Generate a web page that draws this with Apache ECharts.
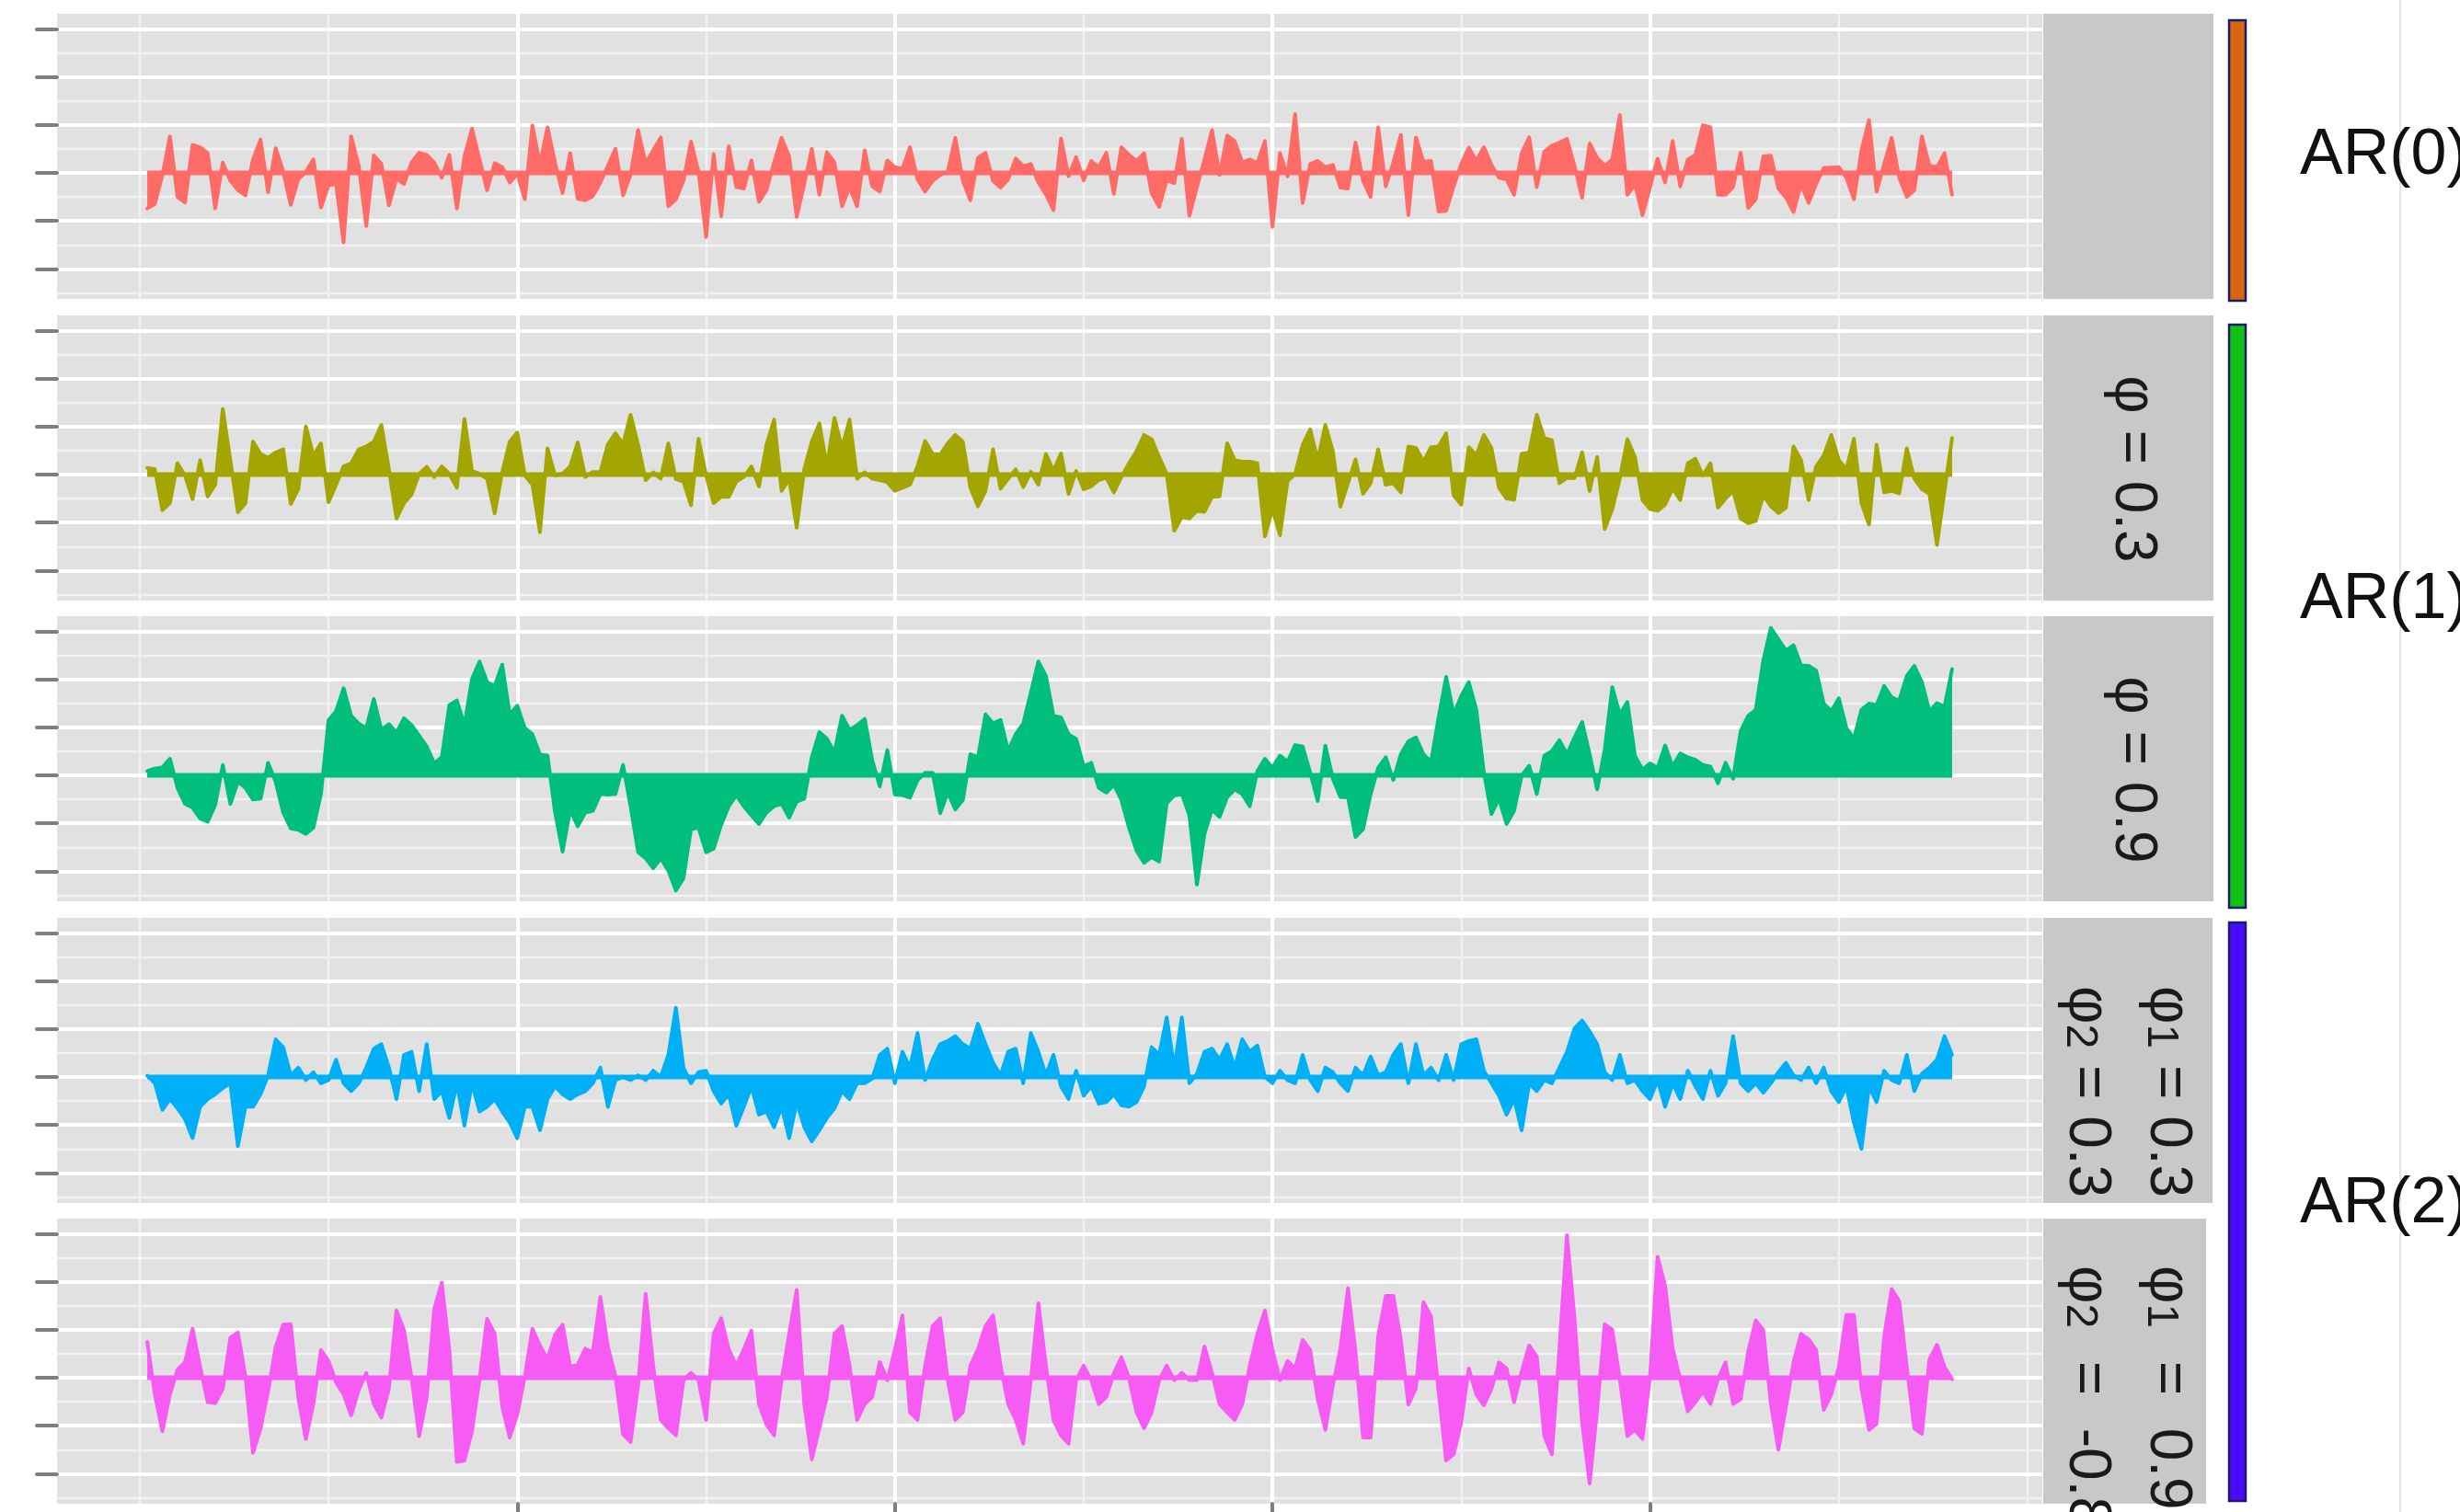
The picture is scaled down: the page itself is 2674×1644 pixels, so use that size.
<!DOCTYPE html>
<html>
<head>
<meta charset="utf-8">
<script src="https://cdn.jsdelivr.net/npm/echarts@6/dist/echarts.min.js"></script>
<style>
html,body{margin:0;padding:0;background:#ffffff;}
#chart{width:2674px;height:1644px;}
</style>
</head>
<body>
<div id="chart"></div>
<script>
// Simulated autoregressive series, 240 steps each
const ar0 = [
 -1.48,-1.29,-0.1,1.52,-1.0,-1.23,1.17,1.07,0.82,-1.48,
 0.43,-0.33,-0.72,-0.93,0.56,1.39,-0.8,1.03,0.05,-1.33,
 -0.27,0.05,0.56,-1.44,-0.52,-0.46,-2.89,1.52,0.3,-2.21,
 0.73,0.37,-1.35,-0.24,-0.46,0.43,0.84,0.75,0.43,-0.2,
 0.75,-1.48,0.69,1.84,0.56,-0.72,0.41,0.24,-0.4,-0.04,
 -1.1,1.97,0.37,1.9,0.43,-0.84,0.82,-1.07,-1.14,-0.97,
 -0.4,0.3,1.0,-0.94,-0.08,1.78,0.41,0.94,1.48,-1.39,
 -1.1,-0.33,1.3,0.05,-2.67,0.79,-1.8,1.11,-0.59,-0.65,
 0.52,-1.2,-0.72,0.43,1.46,0.69,-1.83,-0.46,1.0,-0.91,
 0.86,0.43,-1.39,-0.59,-1.39,0.94,-0.56,-0.78,0.52,0.24,
 0.18,1.07,-0.27,-0.78,-0.33,-0.08,0.05,1.46,-0.33,-1.14,
 0.63,0.84,-0.33,-0.61,-0.27,0.6,0.28,0.37,-0.4,-0.9,
 -1.55,1.43,-0.14,0.66,-0.31,0.5,0.24,0.84,-0.87,1.07,
 0.75,0.5,0.82,-0.84,-1.42,-0.31,-0.43,1.42,-1.78,-0.59,
 0.56,1.78,-0.08,1.56,1.33,0.43,0.56,0.41,1.33,-2.25,
 0.82,-0.14,2.45,-1.25,0.37,0.5,0.24,0.33,-0.61,-0.65,
 1.26,-0.33,-1.0,1.9,-0.56,0.43,1.58,-1.76,1.48,0.46,
 0.5,-1.61,-1.58,-0.56,0.37,1.05,0.5,1.07,0.33,-0.2,
 -0.27,-0.91,0.82,1.48,-0.59,0.88,1.14,1.26,1.42,0.3,
 -1.03,1.23,0.63,0.3,0.56,2.41,-0.91,-0.46,-1.76,-0.59,
 0.59,-0.4,1.33,-0.56,0.56,0.75,1.99,1.9,-0.91,-0.91,
 -0.59,0.84,-1.46,-1.1,0.69,0.72,-0.65,-1.03,-1.63,-0.46,
 -1.25,-0.46,0.2,0.22,0.24,-0.2,-1.1,0.94,2.2,-0.78,
 0.37,1.46,-0.2,-1.0,-0.72,1.52,0.3,0.24,0.82,-0.91
];
const ar1Phi03 = [
 0.28,0.22,-1.48,-1.19,0.47,-0.04,-1.02,0.6,-0.91,-0.42,
 2.73,0.6,-1.57,-1.19,1.37,0.86,0.7,0.92,1.05,-1.23,
 -0.61,2.0,0.79,1.3,-1.15,-0.42,0.34,0.47,1.05,1.17,
 1.37,2.07,0.22,-1.83,-1.19,-0.83,0.03,0.32,-0.1,0.34,
 0.03,-0.55,2.32,0.15,0.03,-0.17,-1.61,0.09,1.37,1.75,
 -0.04,-0.42,-2.4,1.09,-0.04,0.03,0.34,1.34,-0.1,0.11,
 0.11,1.26,1.72,1.26,2.49,1.24,-0.23,0.09,-0.17,1.3,
 -0.19,-0.29,-1.28,1.49,-0.04,-1.19,-0.93,-0.93,-0.29,-0.1,
 0.34,-0.49,1.24,2.29,-0.68,-0.19,-2.21,0.22,1.37,2.13,
 0.34,2.36,1.11,2.29,-0.17,0.09,-0.17,-0.23,-0.32,-0.68,
 -0.55,-0.42,0.34,1.4,0.86,0.83,1.3,1.65,1.37,-0.55,
 -1.32,-0.68,1.05,-0.59,-0.17,0.22,-0.52,0.11,-0.42,0.86,
 0.15,0.88,-0.8,0.15,-0.61,-0.49,-0.23,-0.13,-0.74,-0.1,
 0.47,0.98,1.65,1.47,0.73,0.03,-2.34,-1.76,-1.83,-1.51,
 -1.55,-0.93,-0.91,1.3,0.6,0.54,0.54,0.47,-2.58,-1.44,
 -2.53,-0.27,0.03,1.24,1.88,0.6,2.07,0.98,-1.34,-0.36,
 0.63,-0.8,-0.36,1.05,-0.42,-0.36,-0.74,1.17,1.11,0.54,
 1.14,1.17,1.72,-0.87,-1.25,1.14,0.82,1.65,1.11,-0.55,
 -1.0,-1.04,0.86,0.92,2.49,1.52,1.43,-0.36,-0.14,-0.14,
 0.92,-0.68,0.73,-2.27,-1.44,-0.17,1.47,0.73,-1.06,-1.44,
 -1.51,-1.25,-0.57,-1.06,0.47,0.66,-0.04,0.47,-1.38,-1.0,
 -0.68,-1.83,-2.02,-1.93,-0.87,-1.32,-1.6,-1.38,1.17,0.6,
 -1.06,0.34,0.79,1.65,0.6,0.22,1.49,-1.19,-2.08,1.24,
 -0.74,-0.68,-0.78,1.09,-0.17,-0.61,-0.81,-2.93,-0.68,1.52
];
const ar1Phi09 = [
 0.18,0.28,0.33,0.69,-0.52,-1.19,-1.35,-1.8,-1.93,-1.23,
 0.43,-1.19,-0.27,-0.52,-1.01,-0.97,0.52,-0.27,-1.55,-2.21,
 -2.27,-2.44,-2.18,-0.78,2.29,2.67,3.63,2.48,2.16,1.97,
 3.18,1.9,2.13,1.78,2.38,2.09,1.65,1.2,0.5,0.75,
 2.92,3.12,2.09,4.01,4.74,3.88,3.72,4.61,2.54,2.9,
 1.97,1.71,0.86,0.82,-1.55,-3.18,-1.42,-2.12,-1.55,-1.48,
 -0.78,-0.8,-0.78,0.43,-1.29,-3.21,-3.46,-3.87,-3.46,-3.97,
 -4.8,-4.29,-2.25,-2.18,-3.21,-3.05,-2.06,-1.29,-0.84,-1.29,
 -1.67,-2.03,-1.55,-1.29,-1.19,-1.76,-1.1,-0.97,0.75,1.8,
 1.52,0.95,2.48,1.9,2.09,2.35,0.63,-0.46,1.05,-0.8,
 -0.82,-0.93,-0.2,0.11,0.11,-1.58,-0.72,-1.42,-1.03,0.88,
 0.75,2.54,2.16,2.31,1.01,1.71,2.16,3.44,4.74,4.14,
 2.48,2.41,1.71,1.52,0.37,0.52,-0.52,-0.72,-0.4,-1.03,
 -2.18,-3.14,-3.65,-3.4,-3.59,-1.16,-0.84,-0.78,-1.67,-4.55,
 -2.44,-1.42,-1.74,-0.91,-0.59,-0.78,-1.29,0.18,0.69,0.31,
 0.82,0.56,1.26,1.2,0.11,-1.07,1.24,-0.14,-0.91,-0.91,
 -2.57,-2.25,-0.78,0.31,0.75,-0.2,0.88,1.42,1.58,0.88,
 0.56,2.41,4.1,2.54,3.31,3.88,2.73,0.11,-1.61,-0.97,
 -2.03,-1.48,-0.01,0.4,-0.78,0.82,1.01,1.46,0.88,1.58,
 2.22,0.88,-0.59,1.07,3.67,2.54,3.05,0.82,0.24,0.5,
 0.31,1.24,0.37,0.91,0.75,0.65,0.43,0.37,-0.33,0.52,
 -0.14,1.84,2.48,2.73,4.78,6.14,5.67,5.2,5.42,4.58,
 4.56,4.36,2.99,2.67,3.21,1.97,1.52,2.73,2.99,2.92,
 3.72,3.24,3.12,4.14,4.56,3.88,2.67,3.01,2.86,4.43
];
const ar2Phi03Phi03 = [
 0.05,-0.26,-1.37,-0.92,-1.3,-1.76,-2.55,-1.24,-0.92,-0.72,
 -0.46,-0.26,-2.88,-1.24,-1.24,-0.72,0.07,1.57,1.24,0.07,
 0.39,-0.13,0.2,-0.26,-0.13,0.72,-0.26,-0.59,-0.26,0.39,
 1.18,1.37,0.39,-0.92,0.92,1.05,-0.59,1.37,-0.92,-0.59,
 -1.7,-0.26,-2.03,-0.26,-1.44,-1.24,-0.92,-1.44,-1.9,-2.55,
 -1.24,-1.24,-2.22,-0.92,-0.39,-0.72,-0.92,-0.72,-0.59,-0.26,
 0.39,-1.24,-0.13,0,-0.13,0.07,-0.13,0.26,0,0.92,
 2.88,0.39,-0.26,0.2,0.26,-0.59,-1.11,-0.72,-2.03,-1.24,
 -0.39,-1.57,-1.44,-2.09,-1.24,-2.55,-1.05,-2.09,-2.68,-2.22,
 -1.7,-1.31,-0.59,-0.92,-0.26,-0.26,-0.07,0.92,1.18,-0.26,
 1.05,0.39,1.83,-0.13,0.72,1.37,1.5,1.7,1.37,1.18,
 2.22,1.37,0.59,0.07,1.05,1.18,-0.26,1.83,1.05,0.07,
 0.92,-0.39,-0.92,0.26,-0.78,-0.39,-1.11,-1.05,-0.72,-1.18,
 -1.24,-1.05,-0.39,1.24,0.92,2.48,0.39,2.48,-0.26,0.13,
 1.05,1.18,0.72,1.37,0.39,1.57,1.05,1.31,0,-0.26,
 0.26,-0.13,-0.26,0.92,-0.13,-0.59,0.39,0.2,-0.26,-0.59,
 0.39,0.07,0.85,0.07,0.2,0.92,1.37,-0.26,1.37,0.07,
 0.39,-0.13,0.92,-0.13,1.37,1.5,1.57,0.26,-0.26,-0.78,
 -1.57,-0.92,-2.22,-0.26,-0.59,-0.13,-0.26,0.39,1.05,2.03,
 2.35,1.9,1.37,0.2,-0.13,0.92,-0.26,-0.13,-0.59,-0.92,
 -0.13,-1.24,-0.26,-0.92,0.26,-0.39,-0.92,0.26,-0.78,-0.26,
 1.7,-0.26,-0.59,-0.26,-0.65,-0.26,0.2,0.59,0.07,-0.13,
 0.39,-0.26,0.39,-0.59,-1.05,-0.39,-1.9,-3.0,-0.39,-1.05,
 0.26,-0.13,-0.26,0.92,-0.59,0.13,0.39,0.72,1.7,0.92
];
const ar2Phi09PhiM08 = [
 1.49,-0.7,-2.23,-0.7,0.34,0.64,2.04,0.45,-1.02,-1.06,
 -0.45,1.66,1.88,0.06,-3.13,-2.11,-0.57,1.28,2.21,2.23,
 -0.83,-2.55,-1.09,1.15,0.7,-0.19,-0.7,-1.57,-0.51,0.19,
 -1.09,-1.66,-0.45,2.81,1.98,0,-2.43,-0.83,2.87,3.96,
 1.15,-3.51,-3.45,-2.23,-0.06,2.45,1.83,-1.21,-2.49,-1.53,
 0.06,2.04,1.34,0.77,1.79,2.21,0.45,0.54,1.21,1.06,
 3.36,1.28,0.06,-2.36,-2.68,-0.32,3.5,0.5,-1.76,-2.1,
 -2.4,-0.1,0.2,-0.1,-1.76,1.83,2.48,1.18,0.5,1.18,
 1.96,-1.1,-1.96,-2.4,-0.1,1.83,3.66,-1.1,-3.4,-2.1,
 -0.8,1.83,2.15,0.5,-1.76,-1.1,-0.8,0.65,-0.1,1.18,
 2.6,-1.44,-1.76,0.5,2.15,2.48,-0.1,-1.76,-1.44,0.5,
 1.18,2.15,2.6,0.5,-1.1,-1.76,-2.75,-0.1,3.1,0.5,
 -1.76,-2.4,-2.75,-0.1,0.5,-0.1,-1.1,-0.8,0.2,0.85,
 0,-1.44,-2.1,-1.44,-0.1,0.5,-0.1,0.2,-0.1,-0.1,
 1.3,0.2,-1.1,-1.44,-1.76,-1.1,0.5,1.83,2.8,1.18,
 -0.1,0.7,0.38,1.57,1.15,-0.89,-2.17,-0.32,1.21,3.74,
 1.09,-2.49,-2.49,1.72,3.41,3.41,1.6,-1.12,-0.45,3.15,
 2.55,-0.57,-3.45,-3.19,-1.85,0.38,-0.7,-1.15,-0.47,0.64,
 0.38,-1.02,0.26,1.34,0.89,-2.43,-3.19,1.21,5.94,2.49,
 -1.85,-4.41,-1.34,2.23,2.0,-0.06,-2.43,-2.17,-2.55,0.06,
 5.04,3.83,1.21,-0.06,-1.4,-1.02,-0.57,-1.09,-0.06,0.64,
 -1.09,-0.89,1.09,2.39,1.98,-1.09,-3.0,-1.21,0.64,1.83,
 1.6,1.15,-1.34,-0.7,0.45,2.62,2.62,-0.45,-2.17,-1.92,
 1.72,3.7,3.19,0.45,-2.11,-2.34,0.77,1.37,0.45,-0.06
];

const panelSeries = [ar0, ar1Phi03, ar1Phi09, ar2Phi03Phi03, ar2Phi09PhiM08];
const panelColors = ['#FF6B66', '#A3A500', '#00BF7D', '#00B0F6', '#F65CF3'];

// Axis breaks and limits shared by every facet
const xMajorBreaks = [50, 100, 150, 200];
const xMinorBreaks = [0, 25, 75, 125, 175, 225, 250];
const yMajorBreaks = [-4, -2, 0, 2, 4, 6];
const yMinorBreaks = [-5, -3, -1, 1, 3, 5];
const yLimits = [-5.25, 6.63];

// Strip labels (right-hand facet strips) and group labels
const stripLines = [
  [],
  [['φ', '', ' = 0.3']],
  [['φ', '', ' = 0.9']],
  [['φ', '1', ' = 0.3'], ['φ', '2', ' = 0.3']],
  [['φ', '1', '  =  0.9'], ['φ', '2', '  =  -0.8']]
];
const groupNames = ['AR(0)', 'AR(1)', 'AR(2)'];
const groupColors = ['#D7650F', '#12C012', '#4A0CFA'];

// ---- layout ----
const PLOT_LEFT = 62, PLOT_RIGHT = 2220, PANEL_H = 310;
const panelTops = [15, 343, 670, 998, 1325];
const STRIP_W = [185, 185, 185, 184, 177];
const FONT = '"Liberation Sans", Arial, sans-serif';

const nPts = ar0.length;
const xPad = 0.05 * (nPts - 1);
const xLimits = [1 - xPad, nPts + xPad];

const grids = [], xAxes = [], yAxes = [], series = [];
const tickStyle = { color: '#7F7F7F', width: 4, cap: 'round' };

panelTops.forEach((top, k) => {
  grids.push({
    left: PLOT_LEFT, top: top, width: PLOT_RIGHT - PLOT_LEFT, height: PANEL_H,
    show: true, backgroundColor: '#E1E1E1', borderWidth: 0, containLabel: false
  });
  const isBottom = k === panelTops.length - 1;
  xAxes.push({
    gridIndex: k, type: 'value', position: 'bottom', min: xLimits[0], max: xLimits[1], z: 4,
    axisLine: { show: false, onZero: false }, splitLine: { show: false },
    axisLabel: { show: false },
    axisTick: { show: isBottom, customValues: xMajorBreaks, length: 22, inside: false, lineStyle: tickStyle }
  });
  yAxes.push({
    gridIndex: k, type: 'value', position: 'left', min: yLimits[0], max: yLimits[1], z: 4,
    axisLine: { show: false, onZero: false }, splitLine: { show: false },
    axisLabel: { show: false },
    axisTick: { show: true, customValues: yMajorBreaks, length: 22, inside: false, lineStyle: tickStyle }
  });

  const minorStyle = { color: '#F2F2F2', width: 2.4, type: 'solid' };
  const majorStyle = { color: '#FFFFFF', width: 4, type: 'solid' };
  const gridLineData = [].concat(
    xMinorBreaks.map(v => ({ xAxis: v, lineStyle: minorStyle })),
    yMinorBreaks.map(v => ({ yAxis: v, lineStyle: minorStyle })),
    xMajorBreaks.map(v => ({ xAxis: v, lineStyle: majorStyle })),
    yMajorBreaks.map(v => ({ yAxis: v, lineStyle: majorStyle }))
  );
  // panel grid lines, kept beneath the data
  series.push({
    type: 'line', xAxisIndex: k, yAxisIndex: k, data: [], z: 1,
    silent: true, animation: false,
    markLine: {
      z: 1, silent: true, symbol: ['none', 'none'], animation: false,
      label: { show: false }, emphasis: { disabled: true },
      data: gridLineData
    }
  });

  const vals = panelSeries[k];
  const col = panelColors[k];
  // filled series between the values and zero
  series.push({
    type: 'line', xAxisIndex: k, yAxisIndex: k, z: 3,
    data: vals.map((v, j) => [j + 1, v]),
    showSymbol: false, symbol: 'none', animation: false, silent: true,
    lineStyle: { color: col, width: 4, join: 'round', cap: 'round' },
    areaStyle: { color: col, opacity: 1, origin: 'auto' }
  });
  // outline along the zero baseline
  series.push({
    type: 'line', xAxisIndex: k, yAxisIndex: k, z: 3,
    data: vals.map((v, j) => [j + 1, 0]),
    showSymbol: false, symbol: 'none', animation: false, silent: true,
    lineStyle: { color: col, width: 5, cap: 'butt' }
  });
});

// ---- decorations: strips, group bars, group labels ----
const graphics = [];
graphics.push({
  type: 'line', z: 0, silent: true,
  shape: { x1: 2609, y1: 0, x2: 2609, y2: 1644 },
  style: { stroke: '#E4E4E4', lineWidth: 2 }
});
panelTops.forEach((top, k) => {
  graphics.push({
    type: 'rect', z: 5, silent: true,
    shape: { x: PLOT_RIGHT + 1, y: top, width: STRIP_W[k], height: PANEL_H },
    style: { fill: '#C8C8C8' }
  });
});

function stripText(parts, cx, y, align, size) {
  const subSize = Math.round(size * 0.75);
  return {
    type: 'text', z: 6, silent: true,
    x: cx, y: y, rotation: -Math.PI / 2,
    style: {
      text: '{m|' + parts[0] + '}' + (parts[1] ? '{s|' + parts[1] + '}' : '') + '{m|' + parts[2] + '}',
      align: align, verticalAlign: 'middle',
      fill: '#1A1A1A', fontFamily: FONT, fontSize: size,
      rich: {
        m: { fontSize: size, fontFamily: FONT, fill: '#1A1A1A', verticalAlign: 'bottom' },
        s: { fontSize: subSize, fontFamily: FONT, fill: '#1A1A1A', verticalAlign: 'bottom' }
      }
    }
  };
}
const STRIP_FONT = 64;
graphics.push(stripText(stripLines[1][0], 2318, panelTops[1] + PANEL_H / 2 + 12, 'center', STRIP_FONT));
graphics.push(stripText(stripLines[2][0], 2318, panelTops[2] + PANEL_H / 2 + 12, 'center', STRIP_FONT));
graphics.push(stripText(stripLines[3][0], 2356, 1072, 'left', STRIP_FONT));
graphics.push(stripText(stripLines[3][1], 2268, 1072, 'left', STRIP_FONT));
graphics.push(stripText(stripLines[4][0], 2356, 1376, 'left', STRIP_FONT));
graphics.push(stripText(stripLines[4][1], 2268, 1376, 'left', STRIP_FONT));

const groupSpans = [[22, 327], [353, 987], [1003, 1632]];
const groupLabelY = [170, 653, 1310];
groupSpans.forEach((span, g) => {
  graphics.push({
    type: 'rect', z: 5, silent: true,
    shape: { x: 2423, y: span[0], width: 18, height: span[1] - span[0] },
    style: { fill: groupColors[g], stroke: '#1B1B6B', lineWidth: 2.5 }
  });
  graphics.push({
    type: 'text', z: 6, silent: true,
    x: 2500, y: groupLabelY[g],
    style: {
      text: groupNames[g], fill: '#111111', fontFamily: FONT, fontSize: 70,
      align: 'left', verticalAlign: 'middle'
    }
  });
});

const chart = echarts.init(document.getElementById('chart'), null, { renderer: 'canvas', width: 2674, height: 1644 });
chart.setOption({
  backgroundColor: '#FFFFFF',
  animation: false,
  grid: grids,
  xAxis: xAxes,
  yAxis: yAxes,
  series: series,
  graphic: { elements: graphics }
});
</script>
</body>
</html>
